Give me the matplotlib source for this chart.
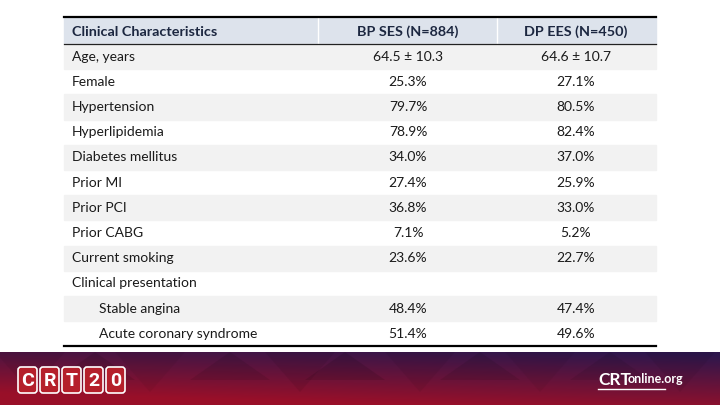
import numpy as np
import matplotlib.pyplot as plt
from matplotlib.patches import Rectangle, FancyBboxPatch, Polygon

# === Table data ===
columns = ["Clinical Characteristics", "BP SES (N=884)", "DP EES (N=450)"]
characteristics = ["Age, years", "Female", "Hypertension", "Hyperlipidemia",
                   "Diabetes mellitus", "Prior MI", "Prior PCI", "Prior CABG",
                   "Current smoking", "Clinical presentation",
                   "Stable angina", "Acute coronary syndrome"]
bp_ses = ["64.5 \u00b1 10.3", "25.3%", "79.7%", "78.9%", "34.0%", "27.4%",
          "36.8%", "7.1%", "23.6%", "", "48.4%", "51.4%"]
dp_ees = ["64.6 \u00b1 10.7", "27.1%", "80.5%", "82.4%", "37.0%", "25.9%",
          "33.0%", "5.2%", "22.7%", "", "47.4%", "49.6%"]
indented = ["Stable angina", "Acute coronary syndrome"]

plt.rcParams['font.family'] = ['Lato', 'DejaVu Sans']

fig = plt.figure(figsize=(7.2, 4.05), dpi=100)
ax = fig.add_axes([0, 0, 1, 1])
ax.set_xlim(0, 720)
ax.set_ylim(405, 0)
ax.axis("off")

# === Layout (pixels) ===
x_left, x_right = 64, 656
col_edges = [64, 318, 497, 656]
col_centers = [408, 576]
head_top, head_bot = 17, 44
row_h = 25.2
fs_head = 10.4
fs_body = 10

# header
ax.add_patch(Rectangle((x_left, head_top), x_right - x_left, head_bot - head_top,
                       color="#dde3ec", zorder=1))
for xe in col_edges[1:-1]:
    ax.plot([xe, xe], [head_top, head_bot], color="white", lw=1.0, zorder=2)
ax.text(72, (head_top + head_bot) / 2 + 1, columns[0], fontsize=fs_head, fontweight="bold",
        color="#1c2740", va="center", ha="left", zorder=3)
for c, lab in zip(col_centers, columns[1:]):
    ax.text(c, (head_top + head_bot) / 2 + 1, lab, fontsize=fs_head, fontweight="bold",
            color="#1c2740", va="center", ha="center", zorder=3)

# body rows
for i, name in enumerate(characteristics):
    y0 = head_bot + i * row_h
    yc = y0 + row_h / 2
    if i % 2 == 0:
        ax.add_patch(Rectangle((x_left, y0), x_right - x_left, row_h,
                               color="#f2f2f2", zorder=1))
    xt = 99 if name in indented else 72
    ax.text(xt, yc, name, fontsize=fs_body, color="#1a1a1a", va="center", ha="left", zorder=3)
    ax.text(col_centers[0], yc, bp_ses[i], fontsize=fs_body, color="#1a1a1a",
            va="center", ha="center", zorder=3)
    ax.text(col_centers[1], yc, dp_ees[i], fontsize=fs_body, color="#1a1a1a",
            va="center", ha="center", zorder=3)

bottom = head_bot + len(characteristics) * row_h
ax.plot([x_left, x_right], [head_top, head_top], color="black", lw=1.6, zorder=4)
ax.plot([x_left, x_right], [head_bot, head_bot], color="#222222", lw=0.9, zorder=4)
ax.plot([x_left, x_right], [bottom, bottom], color="black", lw=1.6, zorder=4)

# === Footer band ===
band_top = 352
gy, gx = np.mgrid[0:1:60j, 0:1:200j]
top_col = np.array([0.18, 0.09, 0.30])
bot_col = np.array([0.60, 0.06, 0.16])
t = np.clip(gy * 0.9 + (1 - gx) * 0.35 - 0.05, 0, 1)[..., None]
grad = top_col * (1 - t) + bot_col * t
ax.imshow(grad, extent=[0, 720, 405, band_top], aspect="auto", zorder=0)

# faint triangle texture
tri_x = [30, 95, 150, 230, 300, 345, 420, 480, 540, 610, 680]
tri_a = [0.06, 0.10, 0.05, 0.09, 0.07, 0.11, 0.06, 0.09, 0.05, 0.08, 0.06]
for j, (xc, a) in enumerate(zip(tri_x, tri_a)):
    if j % 2 == 0:
        pts = [(xc - 35, band_top), (xc + 35, band_top), (xc, band_top + 40)]
    else:
        pts = [(xc, band_top), (xc + 40, band_top + 28), (xc - 40, band_top + 28)]
    ax.add_patch(Polygon(pts, closed=True, fc="black", alpha=a, lw=0, zorder=0.5))

# CRT20 logo
for k, ch in enumerate("CRT20"):
    bx = 18 + k * 22
    ax.add_patch(FancyBboxPatch((bx, 367), 19, 26, boxstyle="round,pad=0,rounding_size=3",
                                fc="#b5202b", ec="white", lw=1.2, zorder=2))
    ax.text(bx + 9.5, 380.5, ch, fontsize=14, fontweight="bold", color="white",
            family="Roboto", ha="center", va="center", zorder=3)

# CRTonline.org
ax.text(598, 380, "CRT", fontsize=12.5, fontweight="bold", color="white",
        ha="left", va="center", zorder=3)
ax.text(628, 379, "online.org", fontsize=9, fontweight="bold", color="white",
        ha="left", va="center", zorder=3)
ax.plot([598, 665], [389, 389], color="white", lw=1, zorder=3)

fig.savefig("out.png", dpi=100)
